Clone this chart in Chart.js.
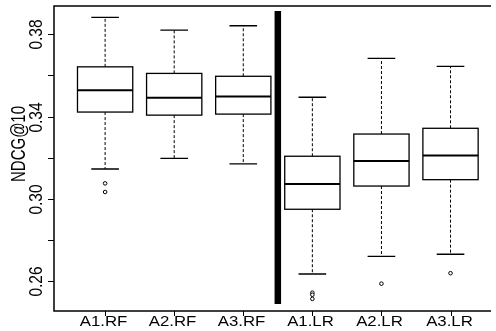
<!DOCTYPE html>
<html>
<head>
<meta charset="utf-8">
<script src="https://cdn.jsdelivr.net/npm/chart.js@4/dist/chart.umd.min.js"></script>
<style>
  html, body { margin: 0; padding: 0; background: #fff; overflow: hidden; }
  canvas { display: block; }
</style>
</head>
<body>
<canvas id="ndcgBoxplot" width="496" height="331"></canvas>
<script>
// NDCG@10 boxplots, RF vs LR under three settings

const groups = ['A1.RF', 'A2.RF', 'A3.RF', 'A1.LR', 'A2.LR', 'A3.LR'];
const whiskerLow  = [0.3145, 0.3197, 0.3170, 0.2634, 0.2720, 0.2730];
const q1          = [0.3422, 0.3407, 0.3412, 0.2949, 0.3062, 0.3093];
const medians     = [0.3528, 0.3492, 0.3498, 0.3072, 0.3184, 0.3210];
const q3          = [0.3642, 0.3610, 0.3596, 0.3207, 0.3315, 0.3343];
const whiskerHigh = [0.3883, 0.3821, 0.3842, 0.3494, 0.3683, 0.3644];
const outliers = [[0.3075, 0.3033], [], [], [0.2543, 0.2533, 0.2513], [0.2587], [0.2638]];

const yTicks = [0.26, 0.28, 0.30, 0.32, 0.34, 0.36, 0.38];
const yTickLabels = ['0.26', '', '0.30', '', '0.34', '', '0.38'];
const yTitle = 'NDCG@10';

// thick divider between the RF and LR groups
const dividerX = 3.5;
const dividerTop = 0.3914;
const dividerBottom = 0.2488;

const outlierPoints = [];
outliers.forEach((list, i) => list.forEach(v => outlierPoints.push({ x: i + 1, y: v })));

function scaledText(ctx, text, x, y, sx, rotate) {
    ctx.save();
    ctx.translate(x, y);
    ctx.scale(sx, 1);
    if (rotate) ctx.rotate(-Math.PI / 2);
    ctx.fillText(text, 0, 0);
    ctx.restore();
}

const boxplotPlugin = {
    id: 'boxplot',
    beforeDatasetsDraw(chart) {
        const { ctx, chartArea: a, scales: { x, y } } = chart;
        ctx.save();
        ctx.strokeStyle = '#000';

        groups.forEach((g, i) => {
            const cx = x.getPixelForValue(i + 1);
            const bl = x.getPixelForValue(i + 1 - 0.4);
            const br = x.getPixelForValue(i + 1 + 0.4);
            const cl = x.getPixelForValue(i + 1 - 0.2);
            const cr = x.getPixelForValue(i + 1 + 0.2);
            const yLo = y.getPixelForValue(whiskerLow[i]);
            const yQ1 = y.getPixelForValue(q1[i]);
            const yMed = y.getPixelForValue(medians[i]);
            const yQ3 = y.getPixelForValue(q3[i]);
            const yHi = y.getPixelForValue(whiskerHigh[i]);

            // dashed whiskers
            ctx.lineWidth = 1;
            ctx.setLineDash([3, 2]);
            ctx.beginPath();
            ctx.moveTo(cx, yQ3); ctx.lineTo(cx, yHi);
            ctx.moveTo(cx, yQ1); ctx.lineTo(cx, yLo);
            ctx.stroke();
            ctx.setLineDash([]);

            // caps
            ctx.lineWidth = 1.3;
            ctx.beginPath();
            ctx.moveTo(cl, yHi); ctx.lineTo(cr, yHi);
            ctx.moveTo(cl, yLo); ctx.lineTo(cr, yLo);
            ctx.stroke();

            // box
            ctx.fillStyle = '#fff';
            ctx.fillRect(bl, yQ3, br - bl, yQ1 - yQ3);
            ctx.lineWidth = 1.3;
            ctx.strokeRect(bl, yQ3, br - bl, yQ1 - yQ3);

            // median
            ctx.lineWidth = 2;
            ctx.beginPath();
            ctx.moveTo(bl, yMed); ctx.lineTo(br, yMed);
            ctx.stroke();
        });

        // divider
        const dx = x.getPixelForValue(dividerX);
        ctx.lineWidth = 6.5;
        ctx.lineCap = 'butt';
        ctx.beginPath();
        ctx.moveTo(dx, y.getPixelForValue(dividerTop));
        ctx.lineTo(dx, y.getPixelForValue(dividerBottom));
        ctx.stroke();

        // frame (right side falls outside the picture)
        ctx.lineWidth = 1.5;
        ctx.beginPath();
        ctx.moveTo(a.right, a.top);
        ctx.lineTo(a.left, a.top);
        ctx.lineTo(a.left, a.bottom);
        ctx.lineTo(a.right, a.bottom);
        ctx.stroke();

        // y ticks and labels
        ctx.lineWidth = 1;
        ctx.fillStyle = '#000';
        ctx.textAlign = 'center';
        ctx.textBaseline = 'middle';
        ctx.font = '15.5px "Liberation Sans", Arial, sans-serif';
        yTicks.forEach((t, i) => {
            const py = Math.round(y.getPixelForValue(t)) + 0.5;
            ctx.beginPath();
            ctx.moveTo(a.left, py); ctx.lineTo(a.left - 6, py);
            ctx.stroke();
            if (yTickLabels[i]) scaledText(ctx, yTickLabels[i], 36.5, py, 1.2, true);
        });

        // x ticks and labels
        ctx.font = '14px "Liberation Sans", Arial, sans-serif';
        ctx.textBaseline = 'alphabetic';
        groups.forEach((g, i) => {
            const px = Math.round(x.getPixelForValue(i + 1)) + 0.5;
            ctx.beginPath();
            ctx.moveTo(px, a.bottom); ctx.lineTo(px, a.bottom + 5);
            ctx.stroke();
            scaledText(ctx, g, px - 2, 326, 1.2, false);
        });

        // y title
        ctx.font = '15px "Liberation Sans", Arial, sans-serif';
        ctx.textBaseline = 'middle';
        scaledText(ctx, yTitle, 20, 144, 1.3, true);

        ctx.restore();
    }
};

new Chart(document.getElementById('ndcgBoxplot'), {
    type: 'scatter',
    data: {
        datasets: [{
            label: 'outliers',
            data: outlierPoints,
            pointStyle: 'circle',
            pointRadius: 1.8,
            pointBorderWidth: 1,
            pointBorderColor: '#000',
            pointBackgroundColor: '#fff'
        }]
    },
    options: {
        responsive: false,
        animation: false,
        devicePixelRatio: 1,
        layout: { padding: { left: 54, top: 6, right: 0, bottom: 20 } },
        plugins: { legend: { display: false }, tooltip: { enabled: false } },
        scales: {
            x: { type: 'linear', min: 0.26, max: 6.586, display: false },
            y: { type: 'linear', min: 0.2454, max: 0.3938, display: false }
        }
    },
    plugins: [boxplotPlugin]
});
</script>
</body>
</html>
